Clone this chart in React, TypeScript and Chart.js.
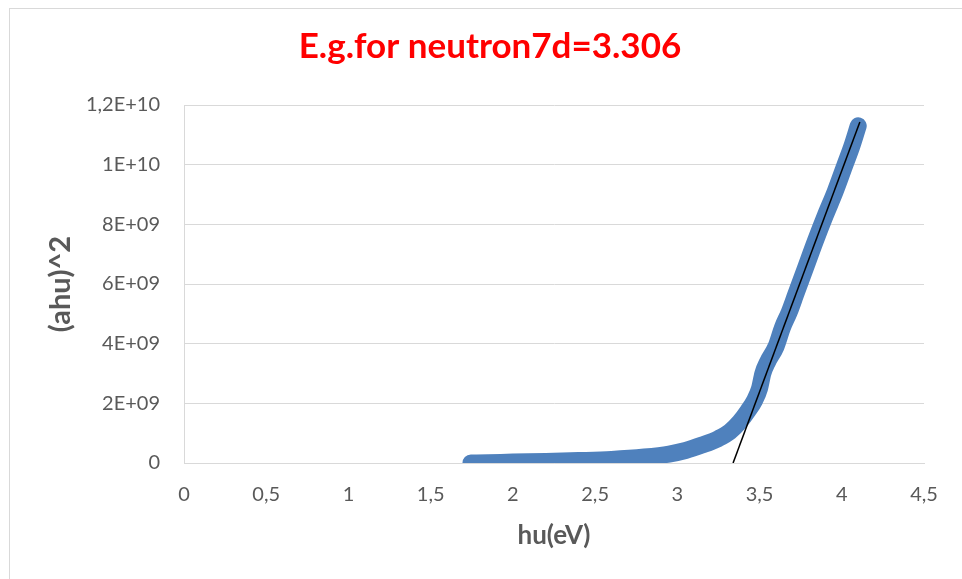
import React, { useEffect, useRef } from "react";
import { Chart, registerables } from "chart.js";

Chart.register(...registerables);

// Photon energy hu (eV)
const huValues = [1.745, 1.85, 2.0, 2.2, 2.4, 2.6, 2.8, 2.95, 3.05, 3.15, 3.25, 3.32, 3.38, 3.43, 3.47, 3.5, 3.52, 3.55, 3.6, 3.64, 3.68, 3.72, 3.78, 3.84, 3.9, 3.96, 4.02, 4.06, 4.1];
// (ahu)^2 values
const ahuSquared = [0, 0.01e9, 0.03e9, 0.05e9, 0.08e9, 0.12e9, 0.2e9, 0.3e9, 0.42e9, 0.6e9, 0.82e9, 1.05e9, 1.38e9, 1.75e9, 2.1e9, 2.5e9, 3.0e9, 3.4e9, 3.9e9, 4.55e9, 5.05e9, 5.65e9, 6.55e9, 7.45e9, 8.3e9, 9.1e9, 10.0e9, 10.6e9, 11.3e9];

// Linear fit (tangent) line end points
const fitX = [3.339, 4.11];
const fitY = [0, 11.43e9];

const xTickLabels = ["0", "0,5", "1", "1,5", "2", "2,5", "3", "3,5", "4", "4,5"];
const yTickLabels = ["0", "2E+09", "4E+09", "6E+09", "8E+09", "1E+10", "1,2E+10"];

const titleText = "E.g.for neutron7d=3.306";
const xTitle = "hu(eV)";
const yTitle = "(ahu)^2";

export default function App() {
  const ref = useRef<HTMLCanvasElement | null>(null);

  useEffect(() => {
    if (!ref.current) return;
    const chart = new Chart(ref.current, {
      type: "scatter",
      data: {
        datasets: [
          {
            label: "fit",
            data: fitX.map((x, i) => ({ x, y: fitY[i] })),
            showLine: true,
            borderColor: "#000000",
            borderWidth: 1.5,
            pointRadius: 0,
          },
          {
            label: "data",
            data: huValues.map((x, i) => ({ x, y: ahuSquared[i] })),
            showLine: true,
            borderColor: "#4f81bd",
            backgroundColor: "#4f81bd",
            borderWidth: 17,
            borderCapStyle: "round",
            borderJoinStyle: "round",
            cubicInterpolationMode: "monotone",
            pointRadius: 0,
          },
        ],
      },
      options: {
        responsive: false,
        animation: false,
        layout: { padding: { left: 56, right: 56, top: 0, bottom: 0 } },
        plugins: {
          legend: { display: false },
          tooltip: { enabled: false },
          title: {
            display: true,
            text: titleText,
            color: "#ff0000",
            font: { family: "Lato", size: 35, weight: "bold" },
            padding: { top: 26, bottom: 37 },
          },
        },
        scales: {
          x: {
            type: "linear",
            min: 0,
            max: 4.5,
            afterFit: (s: any) => {
              s.height = 116;
            },
            ticks: {
              stepSize: 0.5,
              padding: 20,
              color: "#595959",
              font: { family: "Lato", size: 20 },
              callback: (_v: any, i: number) => xTickLabels[i],
            },
            grid: { display: false, drawTicks: false },
            border: { display: true, color: "#d9d9d9", width: 1 },
            title: {
              display: true,
              text: xTitle,
              color: "#595959",
              font: { family: "Lato", size: 26, weight: "bold" },
              padding: { top: 0, bottom: 28 },
            },
          },
          y: {
            type: "linear",
            min: 0,
            max: 1.2e10,
            afterFit: (s: any) => {
              s.width = 128;
            },
            ticks: {
              stepSize: 2e9,
              padding: 24,
              color: "#595959",
              font: { family: "Lato", size: 20 },
              callback: (_v: any, i: number) => yTickLabels[i],
            },
            grid: { display: true, drawTicks: false, color: "#d9d9d9", lineWidth: 1 },
            border: { display: true, color: "#d9d9d9", width: 1 },
            title: {
              display: true,
              text: yTitle,
              color: "#595959",
              font: { family: "Lato", size: 29, weight: "bold" },
              padding: { top: -13, bottom: 0 },
            },
          },
        },
      },
    } as any);
    return () => chart.destroy();
  }, []);

  return (
    <div style={{ position: "fixed", left: 0, top: 0, width: 962, height: 579, overflow: "hidden", background: "#ffffff" }}>
      <div style={{ position: "absolute", left: 9, top: 8, width: 2000, height: 2000, border: "1px solid #d9d9d9" }} />
      <canvas ref={ref} width={980} height={579} style={{ position: "absolute", left: 0, top: 0 }} />
    </div>
  );
}
